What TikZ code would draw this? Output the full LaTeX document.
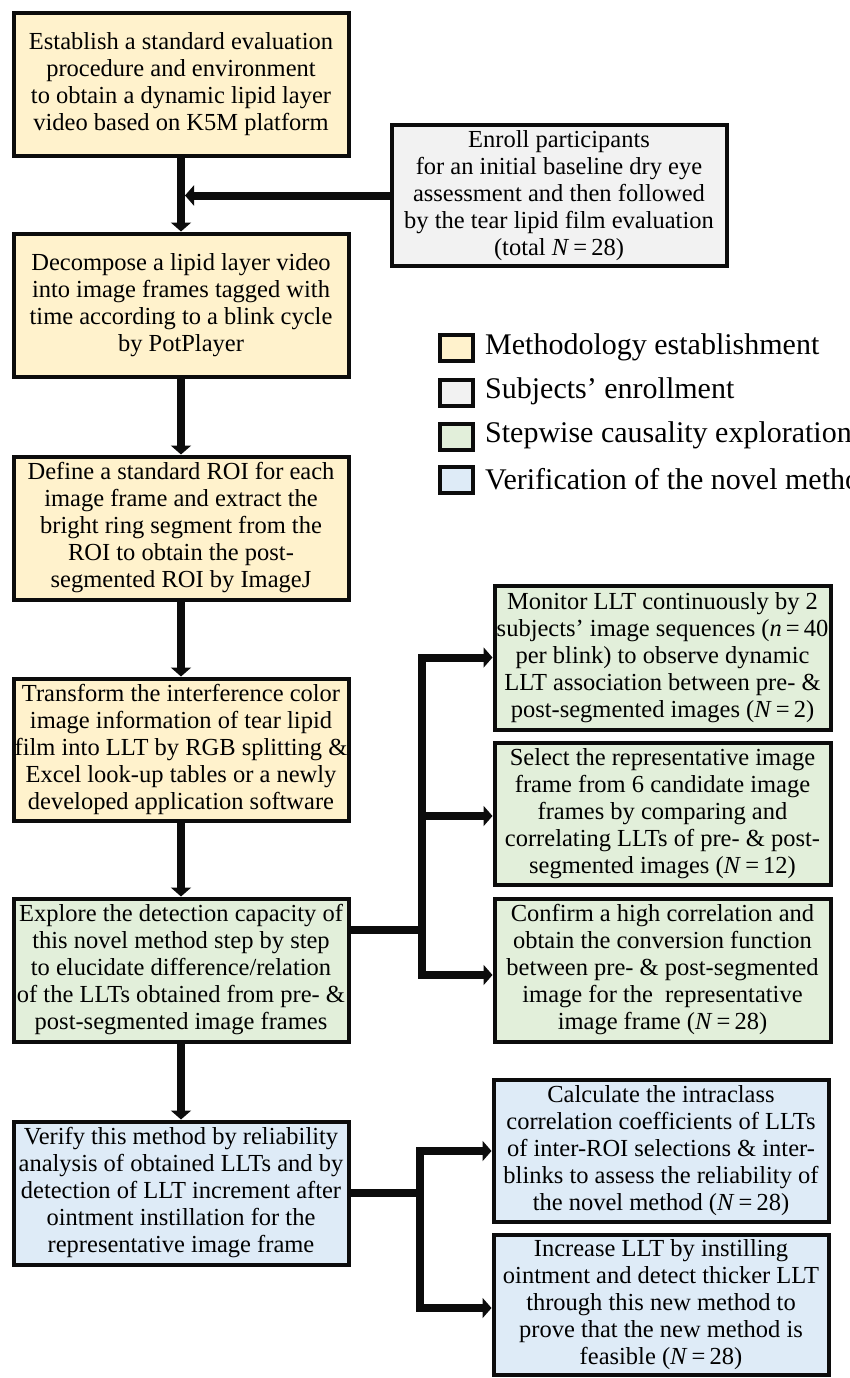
\documentclass[tikz,border=0pt]{standalone}
\usepackage{fontspec}
\setmainfont{Liberation Serif}
\usetikzlibrary{arrows.meta}
\definecolor{ycol}{RGB}{255,242,204}
\definecolor{gycol}{RGB}{242,242,242}
\definecolor{grcol}{RGB}{226,239,218}
\definecolor{blcol}{RGB}{222,235,247}
\definecolor{ink}{RGB}{12,12,12}
\tikzset{
  boxbase/.style={draw=ink, line width=4pt, align=center, inner sep=0pt,
    minimum width=335pt, font=\fontsize{24.5}{27}\selectfont},
  ybox/.style={boxbase, fill=ycol},
  gybox/.style={boxbase, fill=gycol},
  grbox/.style={boxbase, fill=grcol},
  blbox/.style={boxbase, fill=blcol},
  conn/.style={draw=ink, line width=8pt},
  arr/.style={conn, -{Triangle[length=9pt,width=20pt]}},
  legsq/.style={draw=ink, line width=4pt, minimum width=33pt, minimum height=26pt, inner sep=0pt},
  legtxt/.style={anchor=west, inner sep=0pt, font=\fontsize{30}{32}\selectfont}
}
\begin{document}
\begin{tikzpicture}[x=1pt,y=-1pt]
\useasboundingbox[fill=white] (0,0) rectangle (849,1378);

% left column
\node[ybox, minimum height=142pt] (b1) at (181,84.5) {Establish a standard evaluation\\procedure and environment\\to obtain a dynamic lipid layer\\video based on K5M platform};
\node[ybox, minimum height=143pt] (b2) at (181,305) {Decompose a lipid layer video\\into image frames tagged with\\time according to a blink cycle\\by PotPlayer};
\node[ybox, minimum height=143pt] (b3) at (181,528) {Define a standard ROI for each\\image frame and extract the\\bright ring segment from the\\ROI to obtain the post-\\segmented ROI by ImageJ};
\node[ybox, minimum height=142pt] (b4) at (181,749.5) {Transform the interference color\\image information of tear lipid\\film into LLT by RGB splitting \&\\Excel look-up tables or a newly\\developed application software};
\node[grbox, minimum height=143pt] (b5) at (181,970) {Explore the detection capacity of\\this novel method step by step\\to elucidate difference/relation\\of the LLTs obtained from pre- \&\\post-segmented image frames};
\node[blbox, minimum height=143pt] (b6) at (181,1193) {Verify this method by reliability\\analysis of obtained LLTs and by\\detection of LLT increment after\\ointment instillation for the\\representative image frame};

% enrollment
\node[gybox, minimum height=140pt] (gy) at (559,195.5) {Enroll participants\\for an initial baseline dry eye\\assessment and then followed\\by the tear lipid film evaluation\\(total \textit{N}\,=\,28)};

% right column green
\node[grbox, minimum width=336pt, minimum height=144pt] (g1) at (662.5,657.5) {Monitor LLT continuously by 2\\subjects’ image sequences (\textit{n}\,=\,40\\per blink) to observe dynamic\\LLT association between pre- \&\\post-segmented images (\textit{N}\,=\,2)};
\node[grbox, minimum width=336pt, minimum height=142pt] (g2) at (662.5,813.5) {Select the representative image\\frame from 6 candidate image\\frames by comparing and\\correlating LLTs of pre- \& post-\\segmented images (\textit{N}\,=\,12)};
\node[grbox, minimum width=336pt, minimum height=143pt] (g3) at (662.5,970) {Confirm a high correlation and\\obtain the conversion function\\between pre- \& post-segmented\\image for the\ \ representative\\image frame (\textit{N}\,=\,28)};

% right column blue
\node[blbox, minimum height=142pt] (v1) at (661,1150.5) {Calculate the intraclass\\correlation coefficients of LLTs\\of inter-ROI selections \& inter-\\blinks to assess the reliability of\\the novel method (\textit{N}\,=\,28)};
\node[blbox, minimum height=140pt] (v2) at (661,1305) {Increase LLT by instilling\\ointment and detect thicker LLT\\through this new method to\\prove that the new method is\\feasible (\textit{N}\,=\,28)};

% legend
\node[legsq, fill=ycol] (l1) at (456.5,348) {};
\node[legsq, fill=gycol] (l2) at (456.5,392.5) {};
\node[legsq, fill=grcol] (l3) at (456.5,436.5) {};
\node[legsq, fill=blcol] (l4) at (456.5,480) {};
\node[legtxt] (t1) at (485,347) {Methodology establishment};
\node[legtxt] (t2) at (485,391.5) {Subjects’ enrollment};
\node[legtxt] (t3) at (485,435.5) {Stepwise causality exploration};
\node[legtxt] (t4) at (485,479) {Verification of the novel method};

% main flow
\draw[arr] (b1.south) -- (b2.north);
\draw[arr] (b2.south) -- (b3.north);
\draw[arr] (b3.south) -- (b4.north);
\draw[arr] (b4.south) -- (b5.north);
\draw[arr] (b5.south) -- (b6.north);
\coordinate (m1) at (185,195.5);
\draw[arr] (gy.west) -- (m1);

% branch from b5
\coordinate (ja) at (422,930);
\coordinate (jt) at (422,657.5);
\coordinate (jb) at (422,975);
\coordinate (jt0) at (418,657.5);
\coordinate (jm0) at (418,816);
\coordinate (jb0) at (418,975);
\draw[conn] (b5.east |- ja) -- (ja);
\draw[conn, line cap=rect] (jt) -- (jb);
\draw[arr] (jt0) -- (g1.west);
\draw[arr] (jm0) -- (g2.west |- jm0);
\draw[arr] (jb0) -- (g3.west |- jb0);

% branch from b6
\coordinate (ka) at (420,1193);
\coordinate (kt) at (420,1151);
\coordinate (kb) at (420,1308);
\coordinate (kt0) at (416,1151);
\coordinate (kb0) at (416,1308);
\draw[conn] (b6.east) -- (ka);
\draw[conn, line cap=rect] (kt) -- (kb);
\draw[arr] (kt0) -- (v1.west |- kt0);
\draw[arr] (kb0) -- (v2.west |- kb0);
\end{tikzpicture}
\end{document}
